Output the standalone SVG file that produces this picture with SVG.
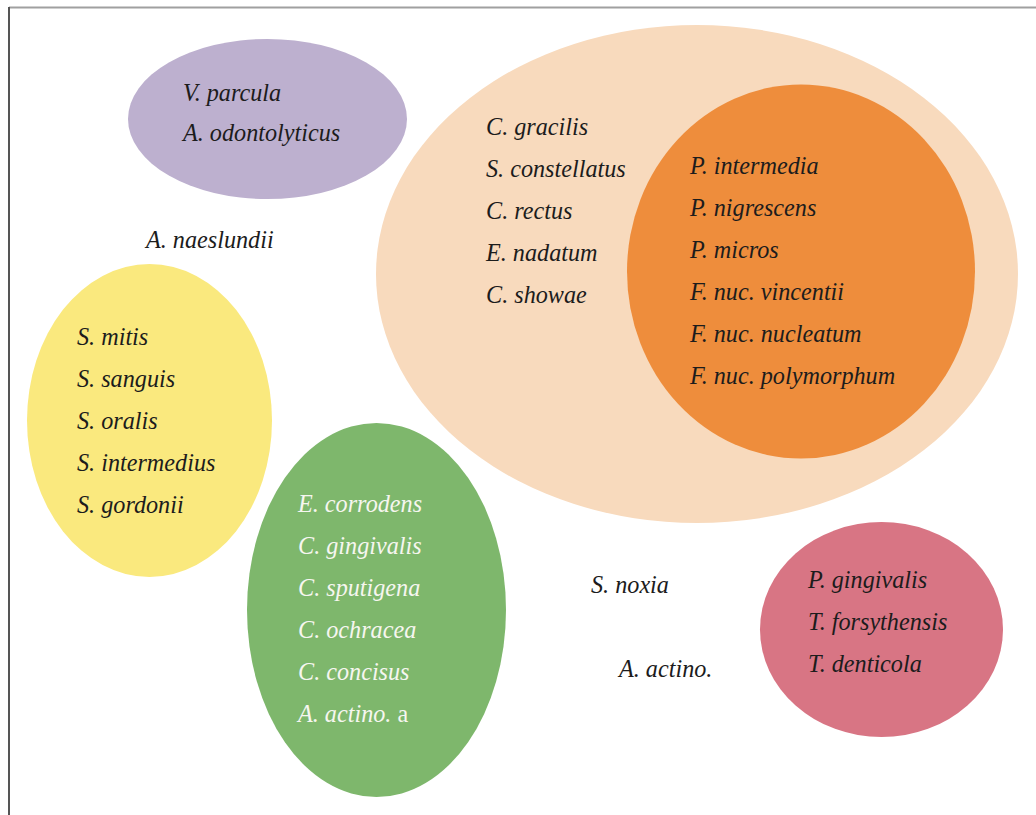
<svg xmlns="http://www.w3.org/2000/svg" width="1036" height="815" viewBox="0 0 1036 815">
<style>
text{font-family:'Liberation Serif','DejaVu Serif',serif;font-size:24.2px;font-style:italic;fill:#1c1c1c}
.w{fill:#f6f6f0}
.up{font-style:normal}
</style>
<rect width="1036" height="815" fill="#ffffff"/>
<g id="frame">
<line x1="9" y1="7.5" x2="1036" y2="7.5" stroke="#a0a0a0" stroke-width="2"/>
<line x1="9" y1="7" x2="9" y2="815" stroke="#555555" stroke-width="2"/>
</g>
<g id="purple">
<ellipse cx="267.5" cy="119" rx="139.5" ry="80" fill="#bdb0cf"/>
<text x="183" y="101">V. parcula</text>
<text x="183" y="141">A. odontolyticus</text>
</g>
<g id="peach">
<ellipse cx="697" cy="274" rx="321" ry="249" fill="#f8dabd"/>
<text x="486" y="135">C. gracilis</text>
<text x="486" y="177">S. constellatus</text>
<text x="486" y="219">C. rectus</text>
<text x="486" y="261">E. nadatum</text>
<text x="486" y="303">C. showae</text>
</g>
<g id="orange">
<ellipse cx="801" cy="271.5" rx="174" ry="187" fill="#ee8d3c"/>
<text x="690" y="174">P. intermedia</text>
<text x="690" y="216">P. nigrescens</text>
<text x="690" y="258">P. micros</text>
<text x="690" y="300">F. nuc. vincentii</text>
<text x="690" y="342">F. nuc. nucleatum</text>
<text x="690" y="384">F. nuc. polymorphum</text>
</g>
<g id="naeslundii">
<text x="146" y="248">A. naeslundii</text>
</g>
<g id="yellow">
<ellipse cx="149.5" cy="420.5" rx="122.5" ry="156.5" fill="#fae97e"/>
<text x="77" y="345">S. mitis</text>
<text x="77" y="387">S. sanguis</text>
<text x="77" y="429">S. oralis</text>
<text x="77" y="471">S. intermedius</text>
<text x="77" y="513">S. gordonii</text>
</g>
<g id="green">
<ellipse cx="376.5" cy="610" rx="129.5" ry="187" fill="#7eb76c"/>
<text class="w" x="298" y="512">E. corrodens</text>
<text class="w" x="298" y="554">C. gingivalis</text>
<text class="w" x="298" y="596">C. sputigena</text>
<text class="w" x="298" y="638">C. ochracea</text>
<text class="w" x="298" y="680">C. concisus</text>
<text class="w" x="298" y="722">A. actino. <tspan class="up">a</tspan></text>
</g>
<g id="noxia">
<text x="591" y="593">S. noxia</text>
</g>
<g id="actino">
<text x="619" y="677">A. actino.</text>
</g>
<g id="pink">
<ellipse cx="881.5" cy="629.5" rx="121.5" ry="107.5" fill="#d87584"/>
<text x="808" y="588">P. gingivalis</text>
<text x="808" y="630">T. forsythensis</text>
<text x="808" y="672">T. denticola</text>
</g>
<g id="connectors"></g>
</svg>
